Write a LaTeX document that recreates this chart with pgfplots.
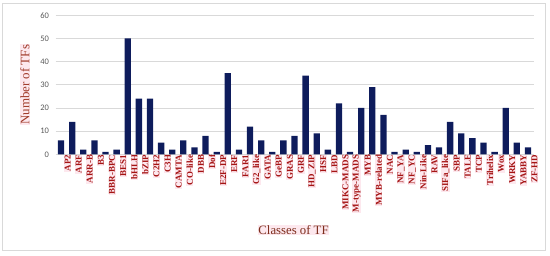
\documentclass[border=0pt]{standalone}
\usepackage{pgfplots}
\pgfplotsset{compat=1.18}
\usepackage{fontspec}
\setmainfont{Liberation Serif}
\newfontfamily\carlito{Carlito}
\definecolor{barblue}{RGB}{14,28,92}
\definecolor{tickred}{RGB}{165,20,20}
\definecolor{ylabred}{RGB}{160,58,42}
\definecolor{xlabbrown}{RGB}{125,45,28}
\definecolor{hlpink}{RGB}{253,232,238}
\definecolor{gridgray}{RGB}{217,217,217}
\definecolor{ticgray}{RGB}{89,89,89}
\begin{document}
\begin{tikzpicture}[x=1bp,y=1bp]
\path[use as bounding box] (0,0) rectangle (550,255);
\draw[gridgray, line width=0.8bp] (2,5) rectangle (545,252);
\begin{axis}[
  at={(55.5bp,100.7bp)}, anchor=south west,
  scale only axis, width=478bp, height=139bp,
  xmin=-0.5, xmax=42.5, ymin=0, ymax=60,
  ytick={0,10,...,60},
  axis line style={draw=none},
  ymajorgrids, grid style={gridgray, line width=0.8bp},
  major tick length=0pt,
  xtick=data,
  xticklabels={AP2,ARF,ARR-B,B3,BBR-BPC,BES1,bHLH,bZIP,C2H2,C3H,CAMTA,CO-like,DBB,Dof,E2F-DP,ERF,FAR1,G2\_like,GATA,GeBP,GRAS,GRF,HD\_ZIP,HSF,LBD,MIKC-MADS,M-type-MADS,MYB,MYB-related,NAC,NF\_YA,NF\_YC,Nin-Like,RAV,SIFa\_like,SBP,TALE,TCP,Trihelix,Wox,WRKY,YABBY,ZF-HD},
  xticklabel style={rotate=90, anchor=east, font=\bfseries\fontsize{9}{10}\selectfont, text=tickred, fill=hlpink, inner sep=0.5bp, yshift=-6.5bp},
  /pgf/number format/assume math mode=true,
  yticklabel style={font=\carlito\fontsize{8.5}{10}\selectfont, text=ticgray, xshift=-3bp},
  ylabel={Number of TFs},
  ylabel style={at={(axis description cs:-0.064,0.5)}, anchor=center, rotate=0, font=\fontsize{13}{15}\selectfont, text=ylabred, fill=hlpink, inner sep=0.5bp},
  xlabel={Classes of TF},
  xlabel style={at={(axis description cs:0.498,-0.545)}, anchor=center, font=\fontsize{12.8}{15}\selectfont, text=xlabbrown, fill=hlpink, inner sep=0.5bp},
]
\addplot[ybar, bar width=6.3bp, fill=barblue, draw=none] table[x=x, y=y] {
x y
0 6
1 14
2 2
3 6
4 1
5 2
6 50
7 24
8 24
9 5
10 2
11 6
12 3
13 8
14 1
15 35
16 2
17 12
18 6
19 1
20 6
21 8
22 34
23 9
24 2
25 22
26 1
27 20
28 29
29 17
30 1
31 2
32 1
33 4
34 3
35 14
36 9
37 7
38 5
39 1
40 20
41 5
42 3
};
\end{axis}
\end{tikzpicture}
\end{document}
